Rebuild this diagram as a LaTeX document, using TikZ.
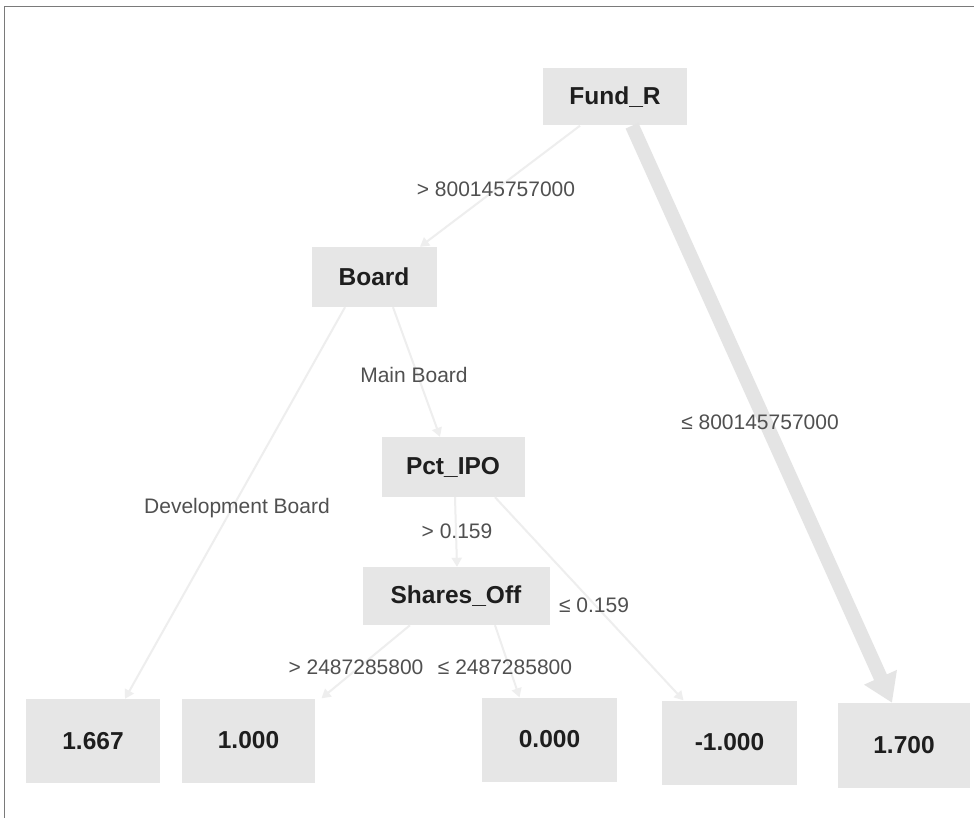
\documentclass[tikz,border=0pt]{standalone}
\usepackage{fontspec}
\setmainfont{Liberation Sans}
\usetikzlibrary{arrows.meta}
\definecolor{boxfill}{HTML}{E6E6E6}
\definecolor{edgegray}{HTML}{EEEEEE}
\definecolor{thickgray}{HTML}{E4E4E4}
\definecolor{labelgray}{HTML}{505050}
\definecolor{nodetext}{HTML}{1E1E1E}
\definecolor{framegray}{HTML}{7A7A7A}
\tikzset{
  treebox/.style={fill=boxfill, inner sep=0pt, text=nodetext,
    font=\fontsize{24.5}{28}\selectfont\bfseries},
  leafbox/.style={treebox, minimum width=134pt, minimum height=84pt},
  thinedge/.style={draw=edgegray, line width=2pt,
    -{Triangle[width=10pt,length=9pt]}},
  thickedge/.style={draw=thickgray, line width=14pt,
    -{Triangle[width=34pt,length=28pt]}},
  edgelabel/.style={text=labelgray, inner sep=1pt,
    font=\fontsize{21}{25}\selectfont}
}
\begin{document}
\begin{tikzpicture}[x=1pt,y=-1pt]
\useasboundingbox (0,0) rectangle (974,818);
\fill[white] (0,0) rectangle (974,818);
% frame
\coordinate (ftl) at (4.5,6.5);
\coordinate (ftr) at (974,6.5);
\coordinate (fbl) at (4.5,818);
\draw[framegray, line width=1.4pt] (fbl) -- (ftl) -- (ftr);

% nodes
\node[treebox, minimum width=144pt, minimum height=57pt] (FundR) at (615,97) {Fund\_R};
\node[treebox, minimum width=125pt, minimum height=60pt] (Board) at (374,277) {Board};
\node[treebox, minimum width=143pt, minimum height=60pt] (PctIPO) at (453,467) {Pct\_IPO};
\node[treebox, minimum width=187pt, minimum height=58pt] (SharesOff) at (456,596) {Shares\_Off};
\node[leafbox] (L1) at (93,741) {1.667};
\node[leafbox, minimum width=133pt] (L2) at (248.5,740.5) {1.000};
\node[leafbox, minimum width=135pt] (L3) at (549.5,739.5) {0.000};
\node[leafbox, minimum width=135pt] (L4) at (729.5,742.5) {-1.000};
\node[leafbox, minimum width=132pt, minimum height=85pt] (L5) at (904,745.5) {1.700};

% edges
\draw[thinedge] ([xshift=-35pt]FundR.south) -- ([xshift=46pt]Board.north);
\draw[thickedge] ([xshift=17pt]FundR.south) -- ([xshift=-12pt]L5.north);
\draw[thinedge] ([xshift=-29pt]Board.south) -- ([xshift=32pt]L1.north);
\draw[thinedge] ([xshift=19pt]Board.south) -- ([xshift=-13pt]PctIPO.north);
\draw[thinedge] ([xshift=2pt]PctIPO.south) -- ([xshift=1pt]SharesOff.north);
\draw[thinedge] ([xshift=42pt]PctIPO.south) -- ([xshift=-46pt]L4.north);
\draw[thinedge] ([xshift=-46pt]SharesOff.south) -- ([xshift=73pt]L2.north);
\draw[thinedge] ([xshift=39pt]SharesOff.south) -- ([xshift=-30pt]L3.north);

% labels
\node[edgelabel] (lab1) at (496,189) {> 800145757000};
\node[edgelabel] (lab2) at (760,422) {≤ 800145757000};
\node[edgelabel] (lab3) at (237,508) {Development Board};
\node[edgelabel] (lab4) at (414,375) {Main Board};
\node[edgelabel] (lab5) at (457,531) {> 0.159};
\node[edgelabel] (lab6) at (594,605) {≤ 0.159};
\node[edgelabel] (lab7) at (356,667) {> 2487285800};
\node[edgelabel] (lab8) at (505,667) {≤ 2487285800};
\end{tikzpicture}
\end{document}
